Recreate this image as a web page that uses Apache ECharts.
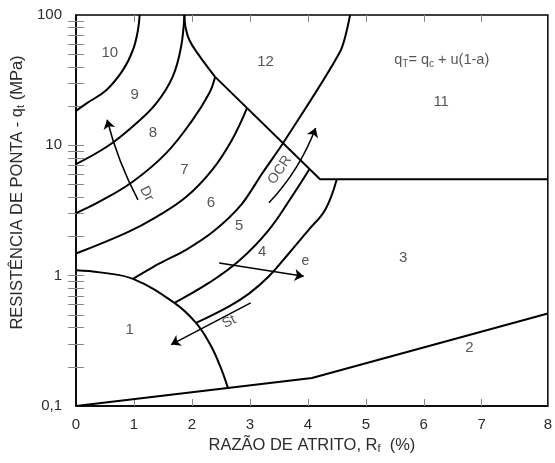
<!DOCTYPE html>
<html>
<head>
<meta charset="utf-8">
<script src="https://cdn.jsdelivr.net/npm/echarts@6/dist/echarts.min.js"></script>
<style>
  html, body { margin: 0; padding: 0; background: #fff; }
  #chart { width: 555px; height: 463px; }
</style>
</head>
<body>
<div id="chart"></div>
<script>
// ---- Axis extents and ticks ----
const xMin = 0;
const xMax = 8.14;                       // printed frame edge, labelled "8"
const xTickValues = [1, 2, 3, 4, 5, 6, 7];
const xLabelValues = [0, 1, 2, 3, 4, 5, 6, 7, 8.14];
const yMin = 0.1;
const yMax = 100;
const yTickValues = [0.2, 0.3, 0.4, 0.5, 0.6, 0.7, 0.8, 0.9, 1,
                     2, 3, 4, 5, 6, 7, 8, 9, 10,
                     20, 30, 40, 50, 60, 70, 80, 90];
const yLabelValues = [0.1, 1, 10, 100];

// ---- Zone boundaries: [Rf (%), qt (MPa)] ----
const curve10_9 = [[0, 18.4], [0.183, 21.0], [0.526, 26.6], [0.812, 37.9], [0.983, 54.0], [1.069, 76.7], [1.098, 100]];
const curve9_8  = [[0, 7.18], [0.537, 9.79], [1.012, 14.4], [1.384, 21.0], [1.669, 33.7], [1.813, 57.1], [1.870, 100]];
const curve8_7  = [[0, 3.02], [0.412, 3.71], [0.983, 5.28], [1.556, 8.72], [2.012, 15.7], [2.298, 25.1], [2.40, 33.5]];
const curve7_6  = [[0, 1.48], [0.875, 2.14], [1.389, 2.83], [1.904, 4.03], [2.35, 6.48], [2.69, 11.0], [2.95, 19.3]];
const curve6_5  = [[0.983, 0.944], [1.441, 1.24], [1.899, 1.58], [2.384, 2.21], [2.864, 3.56], [3.208, 6.05], [3.585, 10.6], [4.557, 52.4], [4.729, 100]];
const curve5_4  = [[1.698, 0.618], [2.298, 0.883], [2.813, 1.30], [3.328, 2.25], [3.722, 4.03], [4.031, 6.61]];
const curve4_3  = [[2.070, 0.434], [2.641, 0.582], [2.985, 0.728], [3.328, 0.989], [3.671, 1.48], [4.014, 2.25], [4.300, 3.21], [4.499, 5.5]];
const zone12Top = [[1.870, 100], [1.887, 81.5], [1.955, 64.3], [2.098, 50.8], [2.40, 33.5]];
const zone12Edge = [[2.40, 33.5], [4.21, 5.5], [8.14, 5.5]];
const zone1Arc  = [[0, 1.10], [0.412, 1.06], [0.983, 0.944], [1.698, 0.618], [2.07, 0.434], [2.316, 0.296], [2.487, 0.202], [2.62, 0.138]];
const zone2Line = [[0, 0.1], [4.07, 0.164], [8.14, 0.512]];

// ---- Trend arrows ----
const arrowDr  = [[1.069, 3.82], [0.537, 15.7]];
const arrowOCR = [[3.328, 3.62], [4.134, 13.6]];
const arrowE   = [[2.47, 1.25], [3.928, 0.988]];
const arrowSt  = [[3.014, 0.618], [1.641, 0.296]];

// ---- Zone numbers and annotations ----
const zoneNames = ['10', '9', '8', '7', '6', '5', '4', '3', '2', '1', '12', '11'];
const zonePos = [[0.583, 50.9], [1.012, 24.4], [1.325, 12.4], [1.870, 6.48], [2.327, 3.64], [2.813, 2.39],
                 [3.212, 1.53], [5.643, 1.37], [6.787, 0.279], [0.926, 0.386], [3.271, 43.8], [6.30, 21.7]];
const noteTexts = ['Dr', 'OCR', 'St', 'e'];
const notePos = [[1.218, 4.25], [3.516, 6.48], [2.641, 0.443], [3.957, 1.29]];
const noteRotate = [-62, 56, 27, 0];
const formulaPos = [6.31, 45.2];

const FONT = 'Liberation Sans, Arial, sans-serif';
const INK = '#000';
const TEXT = '#2b2b2b';

function boundary(data, smooth) {
  return {
    type: 'line', data: data, showSymbol: false, symbol: 'none',
    smooth: smooth, silent: true,
    lineStyle: { color: INK, width: 2 }, z: 3
  };
}

function arrow(coords, curveness) {
  return {
    type: 'lines', coordinateSystem: 'cartesian2d', silent: true,
    symbol: ['none', 'arrow'], symbolSize: 9,
    lineStyle: { color: INK, width: 1.5, curveness: curveness, opacity: 1 },
    data: [{ coords: coords }], z: 4
  };
}

const subStyle = { fontFamily: FONT, fontSize: 11, color: TEXT, verticalAlign: 'bottom', padding: [7, 0, 0, 0] };

const chart = echarts.init(document.getElementById('chart'), null, { renderer: 'canvas' });

const option = {
  backgroundColor: '#fff',
  animation: false,
  textStyle: { fontFamily: FONT },
  grid: { left: 76, right: 4, top: 15, bottom: 57, show: true, borderColor: INK, borderWidth: 1.5 },
  xAxis: [{
    type: 'value', min: xMin, max: xMax,
    name: 'RAZÃO DE ATRITO, R{s|f}  (%)', nameLocation: 'middle', nameGap: 26,
    nameTextStyle: { fontFamily: FONT, fontSize: 16.5, color: TEXT, rich: { s: subStyle } },
    axisLine: { show: true, lineStyle: { color: INK, width: 1.5 } },
    axisTick: { show: true, inside: true, length: 7, customValues: xTickValues, lineStyle: { color: '#888', width: 1 } },
    axisLabel: {
      show: true, customValues: xLabelValues, margin: 11, fontSize: 15, color: TEXT, fontFamily: FONT,
      formatter: v => (v > 8 ? '8' : String(Math.round(v)))
    },
    splitLine: { show: false }
  }, {
    type: 'value', min: xMin, max: xMax, position: 'top',
    axisLine: { show: false },
    axisTick: { show: true, inside: true, length: 7, customValues: xTickValues, lineStyle: { color: '#888', width: 1 } },
    axisLabel: { show: false }, splitLine: { show: false }
  }],
  yAxis: [{
    type: 'log', logBase: 10, min: yMin, max: yMax,
    name: 'RESISTÊNCIA DE PONTA - q{s|t} (MPa)', nameLocation: 'middle', nameGap: 47,
    nameTextStyle: { fontFamily: FONT, fontSize: 16.5, color: TEXT, padding: [0, 0, 0, 36], rich: { s: subStyle } },
    axisLine: { show: true, lineStyle: { color: INK, width: 1.5 } },
    axisTick: { show: true, inside: true, length: 8, customValues: yTickValues, lineStyle: { color: '#888', width: 1 } },
    axisLabel: {
      show: true, customValues: yLabelValues, margin: 14, fontSize: 15, color: TEXT, fontFamily: FONT,
      formatter: v => (v < 1 ? '0,1' : String(Math.round(v)))
    },
    splitLine: { show: false }
  }, {
    type: 'log', logBase: 10, min: yMin, max: yMax, position: 'right',
    axisLine: { show: false },
    axisTick: { show: true, inside: true, length: 8, customValues: yTickValues, lineStyle: { color: '#888', width: 1 } },
    axisLabel: { show: false }, splitLine: { show: false }
  }],
  series: [
    boundary(curve10_9, 0.4),
    boundary(curve9_8, 0.4),
    boundary(curve8_7, 0.4),
    boundary(curve7_6, 0.4),
    boundary(curve6_5, 0.25),
    boundary(curve5_4, 0.4),
    boundary(curve4_3, 0.4),
    boundary(zone12Top, 0.4),
    boundary(zone12Edge, false),
    boundary(zone1Arc, 0.4),
    boundary(zone2Line, false),
    arrow(arrowDr, 0.06),
    arrow(arrowOCR, -0.1),
    arrow(arrowE, 0),
    arrow(arrowSt, 0),
    {
      type: 'scatter', silent: true, symbolSize: 0, z: 5,
      data: zoneNames.map((n, i) => ({ name: n, value: zonePos[i] })),
      label: { show: true, position: 'inside', formatter: '{b}', fontSize: 15, color: TEXT, fontFamily: FONT }
    },
    {
      type: 'scatter', silent: true, symbolSize: 0, z: 5,
      data: noteTexts.map((n, i) => ({
        name: n, value: notePos[i],
        label: { rotate: noteRotate[i] }
      })),
      label: { show: true, position: 'inside', formatter: '{b}', fontSize: 14, color: TEXT, fontFamily: FONT }
    },
    {
      type: 'scatter', silent: true, symbolSize: 0, z: 5,
      data: [{ name: 'formula', value: formulaPos }],
      label: {
        show: true, position: 'inside', fontSize: 14.5, color: TEXT, fontFamily: FONT,
        formatter: 'q{s|T}= q{s|c} + u(1-a)',
        rich: { s: { fontSize: 10, color: TEXT, fontFamily: FONT, verticalAlign: 'bottom', padding: [8, 0, 0, 0] } }
      }
    }
  ]
};

chart.setOption(option);
</script>
</body>
</html>
